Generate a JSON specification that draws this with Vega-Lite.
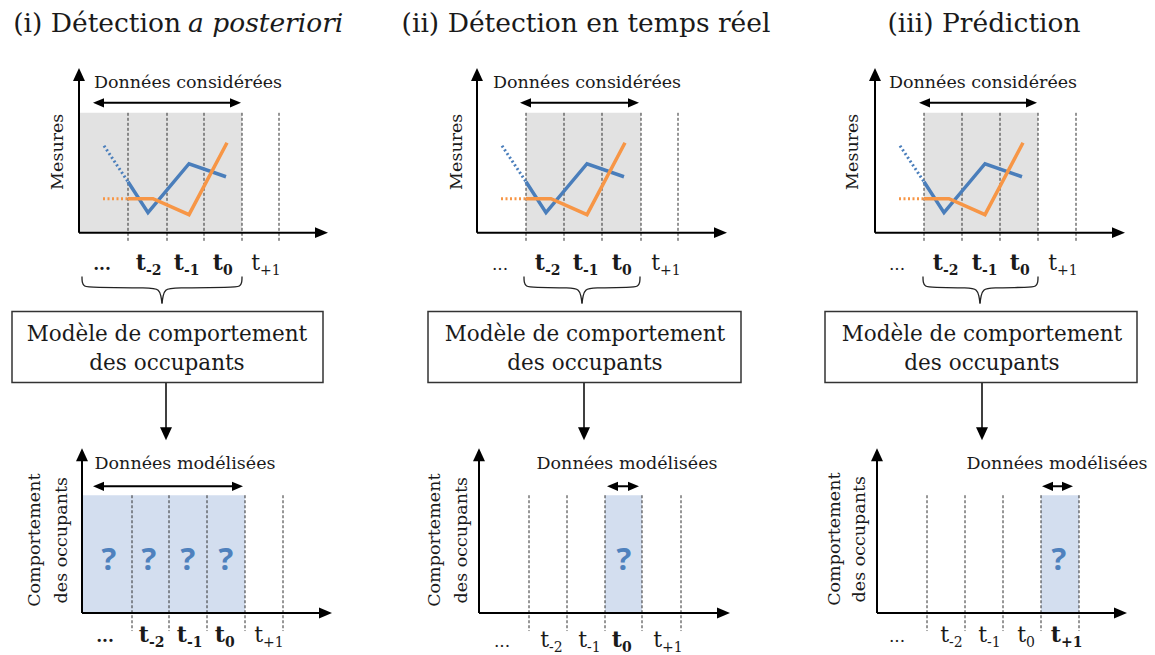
{
  "$schema": "https://vega.github.io/schema/vega-lite/v6.json",
  "width": 1155,
  "height": 655,
  "padding": 0,
  "autosize": {"type": "fit", "contains": "padding"},
  "background": "white",
  "config": {"view": {"stroke": null}, "text": {"font": "DejaVu Serif", "color": "#1a1a1a"}},
  "encoding": {
    "x": {"field": "x", "type": "quantitative", "scale": {"domain": [0, 1155], "nice": false, "zero": false}, "axis": null},
    "y": {"field": "y", "type": "quantitative", "scale": {"domain": [0, 655], "reverse": true, "nice": false, "zero": false}, "axis": null}
  },
  "datasets": {
    "fills": [
      {"x": 79, "x2": 242, "y": 113, "y2": 233, "k": "g"},
      {"x": 526, "x2": 641, "y": 113, "y2": 233, "k": "g"},
      {"x": 924, "x2": 1038, "y": 113, "y2": 233, "k": "g"},
      {"x": 82, "x2": 245, "y": 496, "y2": 614, "k": "b"},
      {"x": 605, "x2": 642, "y": 496, "y2": 614, "k": "b"},
      {"x": 1041, "x2": 1079, "y": 496, "y2": 614, "k": "b"}
    ],
    "grid": [
      {"x": 128, "y": 113, "y2": 243}, {"x": 167, "y": 113, "y2": 243}, {"x": 204, "y": 113, "y2": 243}, {"x": 242, "y": 113, "y2": 243}, {"x": 279, "y": 113, "y2": 243},
      {"x": 526, "y": 113, "y2": 243}, {"x": 564, "y": 113, "y2": 243}, {"x": 602, "y": 113, "y2": 243}, {"x": 641, "y": 113, "y2": 243}, {"x": 678, "y": 113, "y2": 243},
      {"x": 924, "y": 113, "y2": 243}, {"x": 962, "y": 113, "y2": 243}, {"x": 1000, "y": 113, "y2": 243}, {"x": 1038, "y": 113, "y2": 243}, {"x": 1076, "y": 113, "y2": 243},
      {"x": 132, "y": 496, "y2": 632}, {"x": 169, "y": 496, "y2": 632}, {"x": 207, "y": 496, "y2": 632}, {"x": 245, "y": 496, "y2": 632}, {"x": 283, "y": 496, "y2": 632},
      {"x": 529, "y": 496, "y2": 632}, {"x": 567, "y": 496, "y2": 632}, {"x": 605, "y": 496, "y2": 632}, {"x": 642, "y": 496, "y2": 632}, {"x": 681, "y": 496, "y2": 632},
      {"x": 927, "y": 496, "y2": 632}, {"x": 965, "y": 496, "y2": 632}, {"x": 1003, "y": 496, "y2": 632}, {"x": 1041, "y": 496, "y2": 632}, {"x": 1079, "y": 496, "y2": 632}
    ],
    "axes": [
      {"x": 79, "y": 80, "x2": 79, "y2": 233}, {"x": 79, "y": 233, "x2": 318, "y2": 233},
      {"x": 477, "y": 80, "x2": 477, "y2": 233}, {"x": 477, "y": 233, "x2": 716, "y2": 233},
      {"x": 875, "y": 80, "x2": 875, "y2": 233}, {"x": 875, "y": 233, "x2": 1114, "y2": 233},
      {"x": 82, "y": 461, "x2": 82, "y2": 614}, {"x": 82, "y": 614, "x2": 320, "y2": 614},
      {"x": 479, "y": 461, "x2": 479, "y2": 614}, {"x": 479, "y": 614, "x2": 718, "y2": 614},
      {"x": 877, "y": 461, "x2": 877, "y2": 614}, {"x": 877, "y": 614, "x2": 1115, "y2": 614},
      {"x": 98, "y": 103, "x2": 236, "y2": 103}, {"x": 525, "y": 103, "x2": 634, "y2": 103}, {"x": 924, "y": 103, "x2": 1032, "y2": 103},
      {"x": 98, "y": 487, "x2": 238, "y2": 487}, {"x": 612, "y": 487, "x2": 634, "y2": 487}, {"x": 1047, "y": 487, "x2": 1068, "y2": 487}
    ],
    "conn": [
      {"x": 166, "y": 383, "x2": 166, "y2": 430},
      {"x": 584, "y": 383, "x2": 584, "y2": 430},
      {"x": 982, "y": 383, "x2": 982, "y2": 430}
    ],
    "heads": [
      {"x": 79, "y": 68, "d": "up"}, {"x": 328, "y": 233, "d": "right"},
      {"x": 477, "y": 68, "d": "up"}, {"x": 727, "y": 233, "d": "right"},
      {"x": 875, "y": 68, "d": "up"}, {"x": 1125, "y": 233, "d": "right"},
      {"x": 82, "y": 449, "d": "up"}, {"x": 332, "y": 614, "d": "right"},
      {"x": 479, "y": 449, "d": "up"}, {"x": 730, "y": 614, "d": "right"},
      {"x": 877, "y": 449, "d": "up"}, {"x": 1127, "y": 614, "d": "right"},
      {"x": 166, "y": 441, "d": "down"}, {"x": 584, "y": 441, "d": "down"}, {"x": 982, "y": 441, "d": "down"}
    ],
    "dheads": [
      {"x": 93, "y": 103, "d": "left"}, {"x": 241, "y": 103, "d": "right"},
      {"x": 520, "y": 103, "d": "left"}, {"x": 639, "y": 103, "d": "right"},
      {"x": 919, "y": 103, "d": "left"}, {"x": 1037, "y": 103, "d": "right"},
      {"x": 93, "y": 487, "d": "left"}, {"x": 243, "y": 487, "d": "right"},
      {"x": 607, "y": 487, "d": "left"}, {"x": 639, "y": 487, "d": "right"},
      {"x": 1042, "y": 487, "d": "left"}, {"x": 1073, "y": 487, "d": "right"}
    ],
    "lines": [
      {"p": 1, "s": "A", "seg": "d", "o": 0, "x": 104, "y": 146}, {"p": 1, "s": "A", "seg": "d", "o": 1, "x": 128, "y": 182},
      {"p": 1, "s": "A", "seg": "s", "o": 0, "x": 128, "y": 182}, {"p": 1, "s": "A", "seg": "s", "o": 1, "x": 148, "y": 213}, {"p": 1, "s": "A", "seg": "s", "o": 2, "x": 189, "y": 164}, {"p": 1, "s": "A", "seg": "s", "o": 3, "x": 226, "y": 177},
      {"p": 1, "s": "B", "seg": "d", "o": 0, "x": 103, "y": 199}, {"p": 1, "s": "B", "seg": "d", "o": 1, "x": 128, "y": 199},
      {"p": 1, "s": "B", "seg": "s", "o": 0, "x": 128, "y": 199}, {"p": 1, "s": "B", "seg": "s", "o": 1, "x": 153, "y": 199}, {"p": 1, "s": "B", "seg": "s", "o": 2, "x": 189, "y": 215}, {"p": 1, "s": "B", "seg": "s", "o": 3, "x": 227, "y": 143},
      {"p": 2, "s": "A", "seg": "d", "o": 0, "x": 502, "y": 146}, {"p": 2, "s": "A", "seg": "d", "o": 1, "x": 526, "y": 182},
      {"p": 2, "s": "A", "seg": "s", "o": 0, "x": 526, "y": 182}, {"p": 2, "s": "A", "seg": "s", "o": 1, "x": 546, "y": 213}, {"p": 2, "s": "A", "seg": "s", "o": 2, "x": 587, "y": 164}, {"p": 2, "s": "A", "seg": "s", "o": 3, "x": 624, "y": 177},
      {"p": 2, "s": "B", "seg": "d", "o": 0, "x": 501, "y": 199}, {"p": 2, "s": "B", "seg": "d", "o": 1, "x": 526, "y": 199},
      {"p": 2, "s": "B", "seg": "s", "o": 0, "x": 526, "y": 199}, {"p": 2, "s": "B", "seg": "s", "o": 1, "x": 551, "y": 199}, {"p": 2, "s": "B", "seg": "s", "o": 2, "x": 587, "y": 215}, {"p": 2, "s": "B", "seg": "s", "o": 3, "x": 625, "y": 143},
      {"p": 3, "s": "A", "seg": "d", "o": 0, "x": 900, "y": 146}, {"p": 3, "s": "A", "seg": "d", "o": 1, "x": 924, "y": 182},
      {"p": 3, "s": "A", "seg": "s", "o": 0, "x": 924, "y": 182}, {"p": 3, "s": "A", "seg": "s", "o": 1, "x": 944, "y": 213}, {"p": 3, "s": "A", "seg": "s", "o": 2, "x": 985, "y": 164}, {"p": 3, "s": "A", "seg": "s", "o": 3, "x": 1022, "y": 177},
      {"p": 3, "s": "B", "seg": "d", "o": 0, "x": 899, "y": 199}, {"p": 3, "s": "B", "seg": "d", "o": 1, "x": 924, "y": 199},
      {"p": 3, "s": "B", "seg": "s", "o": 0, "x": 924, "y": 199}, {"p": 3, "s": "B", "seg": "s", "o": 1, "x": 949, "y": 199}, {"p": 3, "s": "B", "seg": "s", "o": 2, "x": 985, "y": 215}, {"p": 3, "s": "B", "seg": "s", "o": 3, "x": 1023, "y": 143}
    ],
    "braces": [
      {"b": "1L", "o": 0, "x": 82, "y": 277}, {"b": "1L", "o": 1, "x": 82, "y": 283}, {"b": "1L", "o": 2, "x": 84, "y": 287}, {"b": "1L", "o": 3, "x": 90, "y": 288}, {"b": "1L", "o": 4, "x": 152, "y": 288}, {"b": "1L", "o": 5, "x": 159, "y": 290}, {"b": "1L", "o": 6, "x": 161, "y": 296}, {"b": "1L", "o": 7, "x": 162, "y": 304},
      {"b": "1R", "o": 0, "x": 162, "y": 304}, {"b": "1R", "o": 1, "x": 163, "y": 296}, {"b": "1R", "o": 2, "x": 165, "y": 290}, {"b": "1R", "o": 3, "x": 172, "y": 288}, {"b": "1R", "o": 4, "x": 234, "y": 288}, {"b": "1R", "o": 5, "x": 240, "y": 287}, {"b": "1R", "o": 6, "x": 242, "y": 283}, {"b": "1R", "o": 7, "x": 242, "y": 277},
      {"b": "2L", "o": 0, "x": 524, "y": 277}, {"b": "2L", "o": 1, "x": 524, "y": 283}, {"b": "2L", "o": 2, "x": 526, "y": 287}, {"b": "2L", "o": 3, "x": 532, "y": 288}, {"b": "2L", "o": 4, "x": 572, "y": 288}, {"b": "2L", "o": 5, "x": 579, "y": 290}, {"b": "2L", "o": 6, "x": 581, "y": 296}, {"b": "2L", "o": 7, "x": 582, "y": 304},
      {"b": "2R", "o": 0, "x": 582, "y": 304}, {"b": "2R", "o": 1, "x": 583, "y": 296}, {"b": "2R", "o": 2, "x": 585, "y": 290}, {"b": "2R", "o": 3, "x": 592, "y": 288}, {"b": "2R", "o": 4, "x": 632, "y": 288}, {"b": "2R", "o": 5, "x": 638, "y": 287}, {"b": "2R", "o": 6, "x": 640, "y": 283}, {"b": "2R", "o": 7, "x": 640, "y": 277},
      {"b": "3L", "o": 0, "x": 923, "y": 277}, {"b": "3L", "o": 1, "x": 923, "y": 283}, {"b": "3L", "o": 2, "x": 925, "y": 287}, {"b": "3L", "o": 3, "x": 931, "y": 288}, {"b": "3L", "o": 4, "x": 970, "y": 288}, {"b": "3L", "o": 5, "x": 977, "y": 290}, {"b": "3L", "o": 6, "x": 979, "y": 296}, {"b": "3L", "o": 7, "x": 980, "y": 304},
      {"b": "3R", "o": 0, "x": 980, "y": 304}, {"b": "3R", "o": 1, "x": 981, "y": 296}, {"b": "3R", "o": 2, "x": 983, "y": 290}, {"b": "3R", "o": 3, "x": 990, "y": 288}, {"b": "3R", "o": 4, "x": 1030, "y": 288}, {"b": "3R", "o": 5, "x": 1036, "y": 287}, {"b": "3R", "o": 6, "x": 1038, "y": 283}, {"b": "3R", "o": 7, "x": 1038, "y": 277}
    ],
    "boxes": [
      {"x": 12, "x2": 323, "y": 312, "y2": 383},
      {"x": 428, "x2": 741, "y": 312, "y2": 383},
      {"x": 825, "x2": 1137, "y": 312, "y2": 383}
    ],
    "boxtext": [
      {"x": 167, "y": 342, "text": "Modèle de comportement"}, {"x": 167, "y": 371, "text": "des occupants"},
      {"x": 585, "y": 342, "text": "Modèle de comportement"}, {"x": 585, "y": 371, "text": "des occupants"},
      {"x": 982, "y": 342, "text": "Modèle de comportement"}, {"x": 982, "y": 371, "text": "des occupants"}
    ],
    "titles": [
      {"x": 181, "y": 32, "text": "(i) Détection", "k": "r"},
      {"x": 188, "y": 32, "text": "a posteriori", "k": "i"},
      {"x": 586, "y": 32, "text": "(ii) Détection en temps réel", "k": "c"},
      {"x": 984, "y": 32, "text": "(iii) Prédiction", "k": "c"}
    ],
    "captions": [
      {"x": 188, "y": 88, "text": "Données considérées"},
      {"x": 587, "y": 88, "text": "Données considérées"},
      {"x": 983, "y": 88, "text": "Données considérées"},
      {"x": 185, "y": 470, "text": "Données modélisées"},
      {"x": 627, "y": 470, "text": "Données modélisées"},
      {"x": 1057, "y": 470, "text": "Données modélisées"}
    ],
    "ytitles": [
      {"x": 58, "y": 152, "text": "Mesures"}, {"x": 457, "y": 152, "text": "Mesures"}, {"x": 853, "y": 152, "text": "Mesures"},
      {"x": 35, "y": 541, "text": "Comportement"}, {"x": 62, "y": 541, "text": "des occupants"},
      {"x": 435, "y": 541, "text": "Comportement"}, {"x": 462, "y": 541, "text": "des occupants"},
      {"x": 835, "y": 540, "text": "Comportement"}, {"x": 860, "y": 540, "text": "des occupants"}
    ],
    "qmarks": [
      {"x": 109, "y": 562, "text": "?"}, {"x": 149, "y": 562, "text": "?"}, {"x": 188, "y": 562, "text": "?"}, {"x": 226, "y": 562, "text": "?"},
      {"x": 624, "y": 562, "text": "?"}, {"x": 1059, "y": 562, "text": "?"}
    ],
    "ticks": [
      {"x": 102, "y": 270, "k": "dots", "t": "...", "sub": "", "w": "b"},
      {"x": 147, "y": 270, "k": "t", "t": "t", "sub": "-2", "w": "b"},
      {"x": 185, "y": 270, "k": "t", "t": "t", "sub": "-1", "w": "b"},
      {"x": 224, "y": 270, "k": "t", "t": "t", "sub": "0", "w": "b"},
      {"x": 261, "y": 270, "k": "t", "t": "t", "sub": "+1", "w": "n"},
      {"x": 500, "y": 270, "k": "dots", "t": "...", "sub": "", "w": "n"},
      {"x": 546, "y": 270, "k": "t", "t": "t", "sub": "-2", "w": "b"},
      {"x": 584, "y": 270, "k": "t", "t": "t", "sub": "-1", "w": "b"},
      {"x": 623, "y": 270, "k": "t", "t": "t", "sub": "0", "w": "b"},
      {"x": 661, "y": 270, "k": "t", "t": "t", "sub": "+1", "w": "n"},
      {"x": 897, "y": 270, "k": "dots", "t": "...", "sub": "", "w": "n"},
      {"x": 944, "y": 270, "k": "t", "t": "t", "sub": "-2", "w": "b"},
      {"x": 983, "y": 270, "k": "t", "t": "t", "sub": "-1", "w": "b"},
      {"x": 1021, "y": 270, "k": "t", "t": "t", "sub": "0", "w": "b"},
      {"x": 1058, "y": 270, "k": "t", "t": "t", "sub": "+1", "w": "n"},
      {"x": 105, "y": 643, "k": "dots", "t": "...", "sub": "", "w": "b"},
      {"x": 150, "y": 643, "k": "t", "t": "t", "sub": "-2", "w": "b"},
      {"x": 188, "y": 643, "k": "t", "t": "t", "sub": "-1", "w": "b"},
      {"x": 226, "y": 643, "k": "t", "t": "t", "sub": "0", "w": "b"},
      {"x": 264, "y": 643, "k": "t", "t": "t", "sub": "+1", "w": "n"},
      {"x": 502, "y": 648, "k": "dots", "t": "...", "sub": "", "w": "n"},
      {"x": 550, "y": 648, "k": "t", "t": "t", "sub": "-2", "w": "n"},
      {"x": 588, "y": 648, "k": "t", "t": "t", "sub": "-1", "w": "n"},
      {"x": 623, "y": 648, "k": "t", "t": "t", "sub": "0", "w": "b"},
      {"x": 663, "y": 648, "k": "t", "t": "t", "sub": "+1", "w": "n"},
      {"x": 897, "y": 643, "k": "dots", "t": "...", "sub": "", "w": "n"},
      {"x": 950, "y": 643, "k": "t", "t": "t", "sub": "-2", "w": "n"},
      {"x": 988, "y": 643, "k": "t", "t": "t", "sub": "-1", "w": "n"},
      {"x": 1027, "y": 643, "k": "t", "t": "t", "sub": "0", "w": "n"},
      {"x": 1062, "y": 643, "k": "t", "t": "t", "sub": "+1", "w": "b"}
    ]
  },
  "layer": [
    {"data": {"name": "fills"}, "transform": [{"filter": "datum.k == 'g'"}], "mark": {"type": "rect", "fill": "#e2e2e2"}, "encoding": {"x2": {"field": "x2"}, "y2": {"field": "y2"}}},
    {"data": {"name": "fills"}, "transform": [{"filter": "datum.k == 'b'"}], "mark": {"type": "rect", "fill": "#d3deef"}, "encoding": {"x2": {"field": "x2"}, "y2": {"field": "y2"}}},
    {"data": {"name": "grid"}, "mark": {"type": "rule", "color": "#2e2e2e", "strokeWidth": 1, "strokeDash": [3, 2]}, "encoding": {"y2": {"field": "y2"}}},
    {"data": {"name": "axes"}, "mark": {"type": "rule", "color": "#000000", "strokeWidth": 2}, "encoding": {"x2": {"field": "x2"}, "y2": {"field": "y2"}}},
    {"data": {"name": "conn"}, "mark": {"type": "rule", "color": "#000000", "strokeWidth": 1.5}, "encoding": {"x2": {"field": "x2"}, "y2": {"field": "y2"}}},
    {"data": {"name": "heads"}, "mark": {"type": "point", "filled": true, "color": "#000000", "size": 676, "opacity": 1},
      "encoding": {"shape": {"field": "d", "type": "nominal", "legend": null, "scale": {"domain": ["up", "down", "left", "right"], "range": ["M0,0L0.46,1L-0.46,1Z", "M0,0L0.46,-1L-0.46,-1Z", "M0,0L1,0.42L1,-0.42Z", "M0,0L-1,0.42L-1,-0.42Z"]}}}},
    {"data": {"name": "dheads"}, "mark": {"type": "point", "filled": true, "color": "#000000", "size": 484, "opacity": 1},
      "encoding": {"shape": {"field": "d", "type": "nominal", "legend": null, "scale": {"domain": ["up", "down", "left", "right"], "range": ["M0,0L0.46,1L-0.46,1Z", "M0,0L0.46,-1L-0.46,-1Z", "M0,0L1,0.42L1,-0.42Z", "M0,0L-1,0.42L-1,-0.42Z"]}}}},
    {"data": {"name": "lines"}, "transform": [{"filter": "datum.seg == 'd'"}], "mark": {"type": "line", "strokeWidth": 3, "strokeDash": [2, 2.5]},
      "encoding": {"color": {"field": "s", "type": "nominal", "legend": null, "scale": {"domain": ["A", "B"], "range": ["#4a7ebb", "#f79646"]}}, "detail": {"field": "p"}, "order": {"field": "o"}}},
    {"data": {"name": "lines"}, "transform": [{"filter": "datum.seg == 's'"}], "mark": {"type": "line", "strokeWidth": 3.5, "strokeJoin": "miter"},
      "encoding": {"color": {"field": "s", "type": "nominal", "legend": null, "scale": {"domain": ["A", "B"], "range": ["#4a7ebb", "#f79646"]}}, "detail": {"field": "p"}, "order": {"field": "o"}}},
    {"data": {"name": "braces"}, "mark": {"type": "line", "color": "#222222", "strokeWidth": 1.3, "interpolate": "basis"},
      "encoding": {"detail": {"field": "b"}, "order": {"field": "o"}}},
    {"data": {"name": "boxes"}, "mark": {"type": "rect", "fill": "white", "stroke": "#333333", "strokeWidth": 1.5}, "encoding": {"x2": {"field": "x2"}, "y2": {"field": "y2"}}},
    {"data": {"name": "boxtext"}, "mark": {"type": "text", "fontSize": 21.5, "align": "center", "baseline": "alphabetic"}, "encoding": {"text": {"field": "text"}}},
    {"data": {"name": "titles"}, "transform": [{"filter": "datum.k == 'r'"}], "mark": {"type": "text", "fontSize": 26.5, "align": "right", "baseline": "alphabetic"}, "encoding": {"text": {"field": "text"}}},
    {"data": {"name": "titles"}, "transform": [{"filter": "datum.k == 'i'"}], "mark": {"type": "text", "fontSize": 26.5, "fontStyle": "italic", "align": "left", "baseline": "alphabetic"}, "encoding": {"text": {"field": "text"}}},
    {"data": {"name": "titles"}, "transform": [{"filter": "datum.k == 'c'"}], "mark": {"type": "text", "fontSize": 26.5, "align": "center", "baseline": "alphabetic"}, "encoding": {"text": {"field": "text"}}},
    {"data": {"name": "captions"}, "mark": {"type": "text", "fontSize": 17.5, "align": "center", "baseline": "alphabetic"}, "encoding": {"text": {"field": "text"}}},
    {"data": {"name": "ytitles"}, "mark": {"type": "text", "fontSize": 17.5, "align": "center", "baseline": "middle", "angle": 270}, "encoding": {"text": {"field": "text"}}},
    {"data": {"name": "qmarks"}, "mark": {"type": "text", "font": "Open Sans", "fontWeight": "bold", "fontSize": 31, "color": "#4f81bd", "align": "center", "baseline": "middle"}, "encoding": {"text": {"field": "text"}}},
    {"data": {"name": "ticks"}, "transform": [{"filter": "datum.k == 't' && datum.w == 'n'"}], "mark": {"type": "text", "fontSize": 22, "align": "right", "baseline": "alphabetic", "dx": -1}, "encoding": {"text": {"field": "t"}}},
    {"data": {"name": "ticks"}, "transform": [{"filter": "datum.k == 't' && datum.w == 'b'"}], "mark": {"type": "text", "fontSize": 22, "fontWeight": "bold", "align": "right", "baseline": "alphabetic", "dx": -1}, "encoding": {"text": {"field": "t"}}},
    {"data": {"name": "ticks"}, "transform": [{"filter": "datum.k == 't' && datum.w == 'n'"}], "mark": {"type": "text", "fontSize": 14, "align": "left", "baseline": "alphabetic", "dx": -1, "dy": 5}, "encoding": {"text": {"field": "sub"}}},
    {"data": {"name": "ticks"}, "transform": [{"filter": "datum.k == 't' && datum.w == 'b'"}], "mark": {"type": "text", "fontSize": 14, "fontWeight": "bold", "align": "left", "baseline": "alphabetic", "dx": -1, "dy": 5}, "encoding": {"text": {"field": "sub"}}},
    {"data": {"name": "ticks"}, "transform": [{"filter": "datum.k == 'dots' && datum.w == 'n'"}], "mark": {"type": "text", "fontSize": 17, "align": "center", "baseline": "alphabetic"}, "encoding": {"text": {"field": "t"}}},
    {"data": {"name": "ticks"}, "transform": [{"filter": "datum.k == 'dots' && datum.w == 'b'"}], "mark": {"type": "text", "fontSize": 17, "fontWeight": "bold", "align": "center", "baseline": "alphabetic"}, "encoding": {"text": {"field": "t"}}}
  ]
}
